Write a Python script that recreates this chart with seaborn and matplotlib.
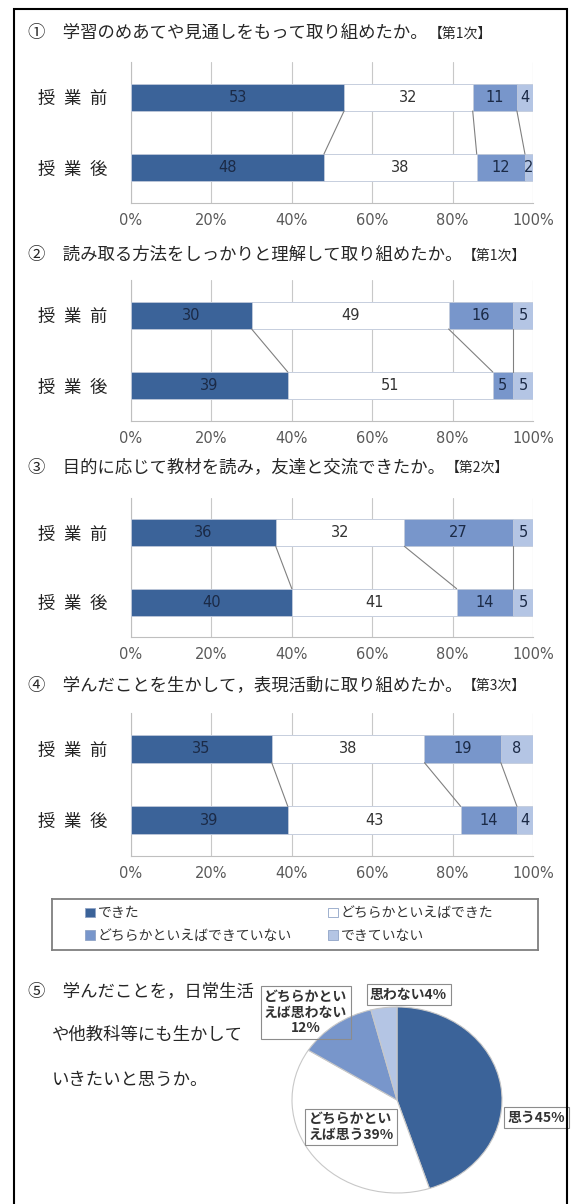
import numpy as np
import pandas as pd
import matplotlib
matplotlib.use("Agg")
import matplotlib.pyplot as plt
from matplotlib.patches import Patch, Rectangle
import seaborn as sns

sns.set_style("white")
plt.rcParams["font.family"] = ["Noto Sans CJK JP", "DejaVu Sans"]

# ---- data ----
timing = ["授業前", "授業後"]
answers = ["できた", "どちらかといえばできた", "どちらかといえばできていない", "できていない"]

q_marks = ["①", "②", "③", "④"]
q_titles = [
    "学習のめあてや見通しをもって取り組めたか。",
    "読み取る方法をしっかりと理解して取り組めたか。",
    "目的に応じて教材を読み，友達と交流できたか。",
    "学んだことを生かして，表現活動に取り組めたか。",
]
q_stages = ["【第1次】", "【第1次】", "【第2次】", "【第3次】"]

q1_before = [53, 32, 11, 4]
q1_after = [48, 38, 12, 2]
q2_before = [30, 49, 16, 5]
q2_after = [39, 51, 5, 5]
q3_before = [36, 32, 27, 5]
q3_after = [40, 41, 14, 5]
q4_before = [35, 38, 19, 8]
q4_after = [39, 43, 14, 4]

q5_lines = ["⑤\u3000学んだことを，日常生活", "や他教科等にも生かして", "いきたいと思うか。"]
pie_labels = ["思う", "どちらかといえば思う", "どちらかといえば思わない", "思わない"]
pie_values = [45, 39, 12, 4]

# ---- style / layout ----
W, H = 578, 1204
colors = ["#3b6399", "#ffffff", "#7896cb", "#b4c5e4"]
text_colors = ["#1b2a46", "#333333", "#1b2a46", "#1b2a46"]
pie_colors = ["#3b6399", "#ffffff", "#7896cb", "#b4c5e4"]
bar_axes_px = [(62, 203), (280, 421), (498, 637), (713, 856)]
title_y = [33, 255, 467, 685]
bar_w = 0.39


def px_rect(left, top, right, bottom):
    return [left / W, 1 - bottom / H, (right - left) / W, (bottom - top) / H]


fig = plt.figure(figsize=(W / 100, H / 100), dpi=100)

# outer frame
fig.add_artist(Rectangle((14 / W, -5 / H), (567 - 14) / W, 1 - 4 / H,
                         transform=fig.transFigure, fill=False,
                         edgecolor="black", linewidth=1.5))

data = [(q1_before, q1_after), (q2_before, q2_after),
        (q3_before, q3_after), (q4_before, q4_after)]

for qi, (before, after) in enumerate(data):
    top, bottom = bar_axes_px[qi]
    ax = fig.add_axes(px_rect(131, top, 533, bottom))

    df = pd.DataFrame({
        "timing": np.repeat(timing, len(answers)),
        "answer": answers * 2,
        "value": before + after,
    })
    df["cum"] = df.groupby("timing")["value"].cumsum()

    # stacked bars: draw cumulative totals from the outermost segment inward
    for k in reversed(range(len(answers))):
        sub = df[df["answer"] == answers[k]]
        sns.barplot(data=sub, x="cum", y="timing", order=timing, orient="h",
                    color=colors[k], saturation=1, width=bar_w,
                    edgecolor="#c3ccdc", linewidth=0.6, ax=ax, zorder=3)

    # value labels
    for i, t in enumerate(timing):
        sub = df[df["timing"] == t]
        for val, c, tc in zip(sub["value"], sub["cum"], text_colors):
            ax.text(c - val / 2, i, str(val), ha="center", va="center",
                    fontsize=10.5, color=tc, family="DejaVu Sans", zorder=5)

    # series lines between the two bars
    cb = df[df["timing"] == timing[0]]["cum"].values
    ca = df[df["timing"] == timing[1]]["cum"].values
    for k in range(len(answers) - 1):
        ax.plot([cb[k], ca[k]], [0 + bar_w / 2, 1 - bar_w / 2],
                color="#808080", linewidth=0.8, zorder=4)

    ax.set_xlim(0, 100)
    ax.set_ylim(1.5, -0.5)
    ax.set_xlabel("")
    ax.set_ylabel("")
    ax.set_axisbelow(True)
    ax.xaxis.grid(True, color="#c8c8c8", linewidth=0.8)
    ax.yaxis.grid(False)
    ticks = list(range(0, 101, 20))
    ax.set_xticks(ticks)
    ax.set_xticklabels([f"{v}%" for v in ticks], family="DejaVu Sans",
                       fontsize=10.5, color="#595959")
    ax.set_yticks([0, 1])
    ax.set_yticklabels(["\u2002".join(t) for t in timing], fontsize=12.5,
                       color="#222222")
    ax.set_yticks([-0.5, 0.5, 1.5], minor=True)
    ax.tick_params(axis="y", which="major", length=0, pad=17)
    ax.tick_params(axis="y", which="minor", length=5, color="#bfbfbf")
    ax.tick_params(axis="x", length=3, color="#bfbfbf", pad=4)
    for s in ["top", "right"]:
        ax.spines[s].set_visible(False)
    for s in ["left", "bottom"]:
        ax.spines[s].set_color("#bfbfbf")
        ax.spines[s].set_linewidth(0.8)

    t1 = fig.text(28 / W, 1 - title_y[qi] / H, f"{q_marks[qi]}\u3000{q_titles[qi]}",
                  fontsize=12.5, va="center", ha="left")
    ax.annotate(q_stages[qi], xy=(1, 0.08), xycoords=t1, xytext=(0.5, 0),
                textcoords="offset points", va="bottom", ha="left",
                fontsize=10, annotation_clip=False)

# ---- legend ----
lax = fig.add_axes(px_rect(52, 899, 538, 950))
lax.set_xticks([])
lax.set_yticks([])
for s in lax.spines.values():
    s.set_color("#7f7f7f")
    s.set_linewidth(1.3)
handles = [Patch(facecolor=c, edgecolor="#8fa3c6", linewidth=0.6, label=a)
           for c, a in zip(colors, answers)]
order = [0, 2, 1, 3]
lax.legend(handles=[handles[i] for i in order], ncol=2, loc="center left",
           bbox_to_anchor=(0.043, 0.5), frameon=False, fontsize=10,
           handlelength=0.7, handleheight=0.7, handletextpad=0.2,
           columnspacing=2.6, labelspacing=0.6, labelcolor="#333333")

# ---- question 5 ----
q5_y = [991, 1035, 1080]
q5_x = [28, 52, 52]
for line, x, y in zip(q5_lines, q5_x, q5_y):
    fig.text(x / W, 1 - y / H, line, fontsize=12.5, va="center", ha="left")

pax = fig.add_axes(px_rect(292, 1007, 502, 1193))
wedges, _ = pax.pie(pie_values, colors=pie_colors, startangle=90, counterclock=False,
                    wedgeprops=dict(edgecolor="#c8c8c8", linewidth=0.8))
pax.set_aspect("auto")
pax.set_xlim(-1, 1)
pax.set_ylim(-1, 1)

pie_breaks = ["", "\n", "\n", ""]
pie_pos = [(1.33, -0.19), (-0.44, -0.29), (-0.87, 0.94), (0.11, 1.13)]
for lab, v, br, (x, y) in zip(pie_labels, pie_values, pie_breaks, pie_pos):
    parts = [lab[i:i + 6] for i in range(0, len(lab), 6)]
    txt = "\n".join(parts) + (br if len(lab) > 6 and len(parts[-1]) >= 6 else "") + f"{v}%"
    pax.text(x, y, txt, ha="center", va="center", fontsize=10, fontweight="bold",
             color="#333333", multialignment="center", linespacing=1.15,
             bbox=dict(boxstyle="square,pad=0.25", fc="none", ec="#8c8c8c", lw=0.8),
             clip_on=False)

fig.savefig("out.png", dpi=100)
